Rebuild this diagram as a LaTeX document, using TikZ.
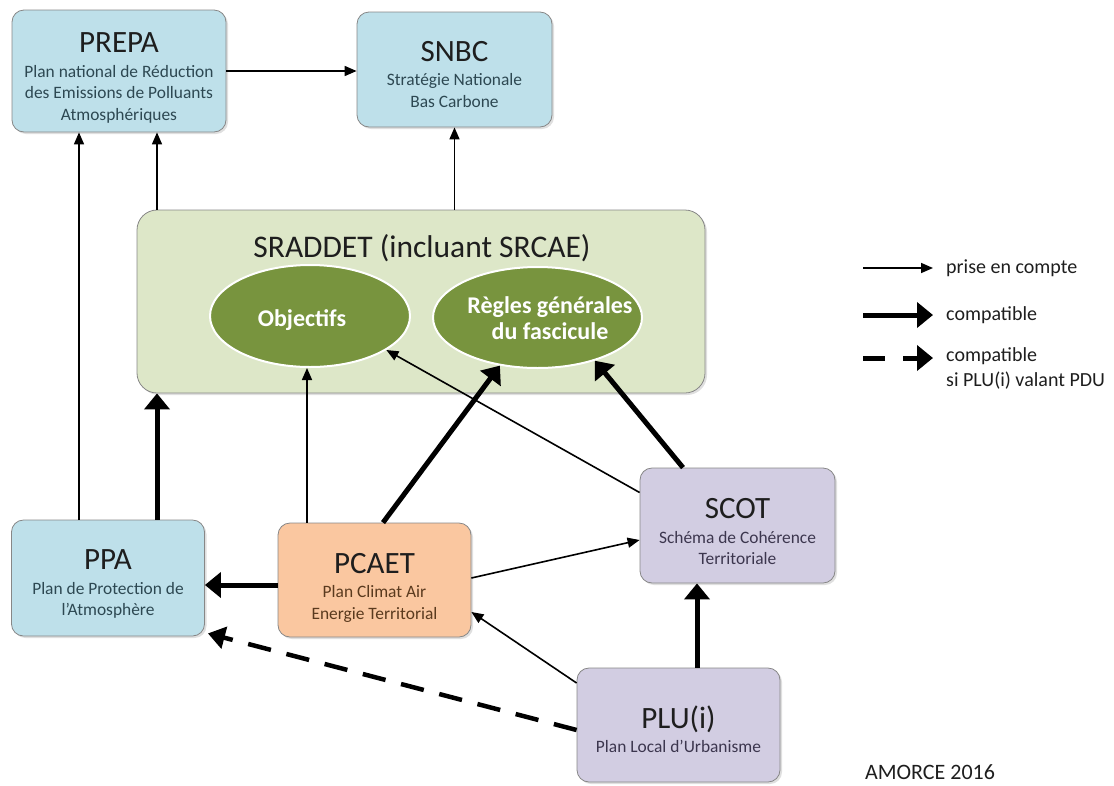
\documentclass[tikz,border=0pt]{standalone}
\usepackage{fontspec}
\setmainfont{Carlito}
\usetikzlibrary{arrows.meta,shapes.geometric,shadows}
\definecolor{boxblue}{RGB}{190,224,234}
\definecolor{boxgreen}{RGB}{221,231,200}
\definecolor{ellgreen}{RGB}{120,148,62}
\definecolor{boxorange}{RGB}{250,199,160}
\definecolor{boxlav}{RGB}{210,205,226}
\definecolor{edgegray}{RGB}{135,135,135}
\definecolor{titlec}{RGB}{30,30,30}
\definecolor{subblue}{RGB}{45,72,82}
\definecolor{suborange}{RGB}{90,58,30}
\definecolor{sublav}{RGB}{60,54,78}
\newcommand\mytitle{\fontsize{31}{34}\selectfont}
\newcommand\mysubf{\fontsize{17.4}{21.5}\selectfont}
\begin{document}
\begin{tikzpicture}[x=1pt,y=-1pt,
  plan/.style={draw=edgegray, line width=0.8pt, rounded corners=12pt, inner sep=0pt,
    drop shadow={shadow xshift=2pt, shadow yshift=-2pt, opacity=0.25}},
  plantext/.style={align=center, inner sep=0pt, font=\mysubf},
  ell/.style={ellipse, draw=white, line width=2pt, fill=ellgreen, inner sep=0pt},
  elltext/.style={text=white, inner sep=0pt, font=\fontsize{24}{26}\selectfont\bfseries, align=center},
  thinarr/.style={line width=1.6pt, -{Triangle[length=12pt,width=10pt]}},
  thickarr/.style={line width=5pt, -{Triangle[length=16pt,width=25pt]}},
  dasharr/.style={line width=4.5pt, -{Triangle[length=17pt,width=22pt]}, dash pattern=on 23.5pt off 16pt},
  legtext/.style={anchor=west, font=\fontsize{20}{25}\selectfont, text=titlec, align=left, inner sep=0pt}
]
\useasboundingbox (0,0) rectangle (1114,785);

% SRADDET
\node[draw=edgegray, line width=0.8pt, fill=boxgreen, rounded corners=20pt, minimum width=568pt, minimum height=183pt,
  drop shadow={shadow xshift=2pt, shadow yshift=-2pt, opacity=0.25}] (srad) at (421,301.5) {};
\node[font=\fontsize{31.5}{36}\selectfont, text=titlec, inner sep=0pt] (sradt) at (422,248) {SRADDET (incluant SRCAE)};
\node[ell, minimum width=200pt, minimum height=102pt] (obj) at (310,316) {};
\node[elltext] (objt) at (302,320) {Objectifs};
\node[ell, minimum width=209pt, minimum height=101pt] (regles) at (537.5,317.5) {};
\node[elltext] (reglest) at (550,318) {Règles générales\\du fascicule};

% boxes
\node[plan, fill=boxblue, minimum width=214pt, minimum height=122pt] (prepa) at (119,71) {};
\node[plantext, text=subblue] (prepat) at (119,78)
  {{\mytitle\color{titlec}PREPA}\\[3pt] Plan national de Réduction\\des Emissions de Polluants\\Atmosphériques};
\node[plan, fill=boxblue, minimum width=195pt, minimum height=115pt] (snbc) at (454.5,69.5) {};
\node[plantext, text=subblue] (snbct) at (454.5,74.5)
  {{\mytitle\color{titlec}SNBC}\\[3pt] Stratégie Nationale\\Bas Carbone};
\node[plan, fill=boxblue, minimum width=193pt, minimum height=116pt] (ppa) at (108,578) {};
\node[plantext, text=subblue] (ppat) at (108,584)
  {{\mytitle\color{titlec}PPA}\\[3pt] Plan de Protection de\\l’Atmosphère};
\node[plan, fill=boxorange, minimum width=193pt, minimum height=114pt] (pcaet) at (374.5,580) {};
\node[plantext, text=suborange] (pcaett) at (374.5,587.5)
  {{\mytitle\color{titlec}PCAET}\\[3pt] Plan Climat Air\\Energie Territorial};
\node[plan, fill=boxlav, minimum width=195pt, minimum height=115pt] (scot) at (737.5,525.5) {};
\node[plantext, text=sublav] (scott) at (737.5,531.5)
  {{\mytitle\color{titlec}SCOT}\\[3pt] Schéma de Cohérence\\Territoriale};
\node[plan, fill=boxlav, minimum width=203pt, minimum height=114pt] (plu) at (678.5,725) {};
\node[plantext, text=sublav] (plut) at (678.5,729)
  {{\mytitle\color{titlec}PLU(i)}\\[3pt] Plan Local d’Urbanisme};

% anchor points
\coordinate (c1) at ([xshift=-29pt]ppa.north);
\coordinate (c2) at ([xshift=-264pt]srad.north);
\coordinate (c3) at ([xshift=49pt]ppa.north);
\coordinate (c4) at ([xshift=-67.5pt]pcaet.north);
\coordinate (c5) at ([xshift=8.5pt]pcaet.north);
\coordinate (c6) at ([yshift=33pt]scot.west);
\coordinate (c7) at ([xshift=-54.5pt]scot.north);
\coordinate (c8) at ([yshift=2pt]pcaet.east);
\coordinate (c9) at ([yshift=-14.5pt]scot.west);
\coordinate (c10) at ([yshift=-5pt]pcaet.west);
\coordinate (c11) at ([yshift=42pt]plu.west);
\coordinate (c12) at ([yshift=-32pt]pcaet.east);
\coordinate (c13) at ([yshift=-5pt]plu.west);
\coordinate (c14) at ([shift={(3pt,3pt)}]ppa.south east);
\coordinate (c15) at ([xshift=18.5pt]plu.north);

% connectors
\draw[thinarr] (prepa.east) -- (prepa.east -| snbc.west);
\draw[thinarr] (c1) -- (c1 |- prepa.south);
\draw[thinarr] (c2) -- (c2 |- prepa.south);
\draw[thinarr] (snbc.south |- srad.north) -- (snbc.south);
\draw[thickarr] (c3) -- (c3 |- srad.south);
\draw[thinarr] (c4) -- (c4 |- obj.south);
\draw[thickarr] (c5) -- (regles.232);
\draw[thinarr] (c6) -- (obj.336);
\draw[thickarr] (c7) -- (regles.323);
\draw[thinarr] (c8) -- (c9);
\draw[thickarr] (c10) -- (c10 -| ppa.east);
\draw[thinarr] (c11) -- (c12);
\draw[dasharr] (c13) -- (c14);
\draw[thickarr] (c15) -- (c15 |- scot.south);

% legend
\coordinate (la1) at (863,268);
\coordinate (la2) at (933,268);
\coordinate (lb1) at (863,315);
\coordinate (lb2) at (933,315);
\coordinate (lc1) at (863,358);
\coordinate (lc2) at (933,358);
\draw[thinarr] (la1) -- (la2);
\draw[thickarr] (lb1) -- (lb2);
\draw[thickarr, dash pattern=on 22pt off 18pt] (lc1) -- (lc2);
\node[legtext] (lt1) at (946,268) {prise en compte};
\node[legtext] (lt2) at (946,315) {compatible};
\node[legtext] (lt3) at (946,368) {compatible\\si PLU(i) valant PDU};

\node[font=\fontsize{22}{26}\selectfont, text=titlec, inner sep=0pt] (amorce) at (930,772.5) {AMORCE 2016};
\end{tikzpicture}
\end{document}
